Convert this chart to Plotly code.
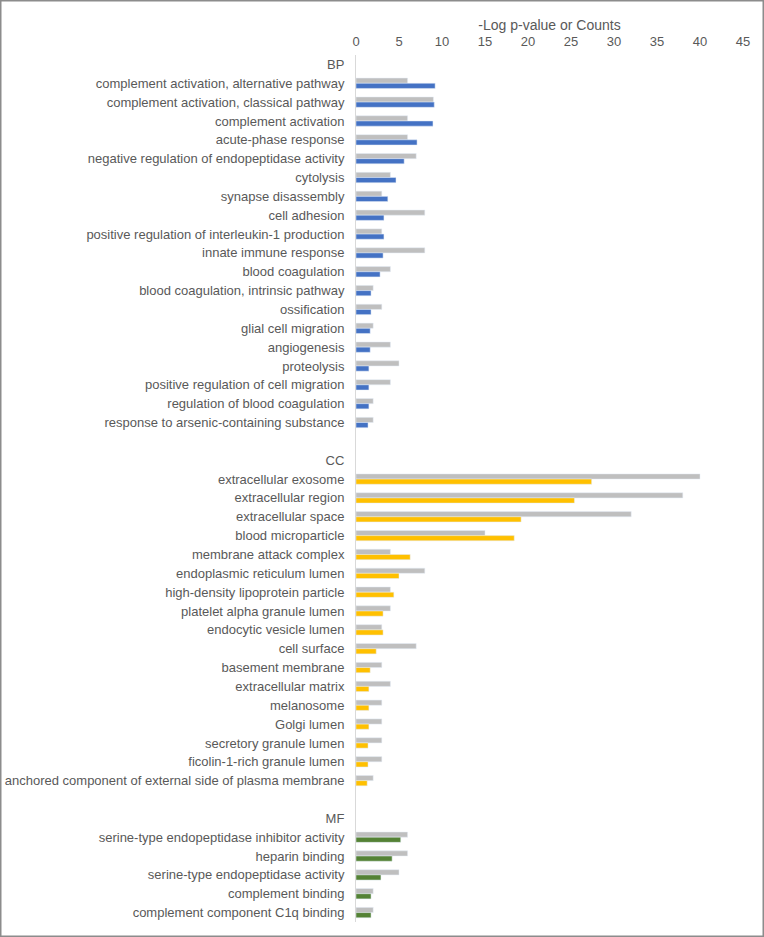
import plotly.graph_objects as go

bp_terms = [
    "complement activation, alternative pathway",
    "complement activation, classical pathway",
    "complement activation",
    "acute-phase response",
    "negative regulation of endopeptidase activity",
    "cytolysis",
    "synapse disassembly",
    "cell adhesion",
    "positive regulation of interleukin-1 production",
    "innate immune response",
    "blood coagulation",
    "blood coagulation, intrinsic pathway",
    "ossification",
    "glial cell migration",
    "angiogenesis",
    "proteolysis",
    "positive regulation of cell migration",
    "regulation of blood coagulation",
    "response to arsenic-containing substance",
]
bp_counts = [6, 9, 6, 6, 7, 4, 3, 8, 3, 8, 4, 2, 3, 2, 4, 5, 4, 2, 2]
bp_logp = [9.2, 9.1, 8.95, 7.1, 5.6, 4.65, 3.7, 3.25, 3.25, 3.15, 2.8, 1.75, 1.75, 1.65, 1.65, 1.5, 1.5, 1.5, 1.4]

cc_terms = [
    "extracellular exosome",
    "extracellular region",
    "extracellular space",
    "blood microparticle",
    "membrane attack complex",
    "endoplasmic reticulum lumen",
    "high-density lipoprotein particle",
    "platelet alpha granule lumen",
    "endocytic vesicle lumen",
    "cell surface",
    "basement membrane",
    "extracellular matrix",
    "melanosome",
    "Golgi lumen",
    "secretory granule lumen",
    "ficolin-1-rich granule lumen",
    "anchored component of external side of plasma membrane",
]
cc_counts = [40, 38, 32, 15, 4, 8, 4, 4, 3, 7, 3, 4, 3, 3, 3, 3, 2]
cc_logp = [27.4, 25.4, 19.2, 18.4, 6.3, 5.0, 4.4, 3.15, 3.15, 2.35, 1.65, 1.5, 1.5, 1.5, 1.4, 1.4, 1.3]

mf_terms = [
    "serine-type endopeptidase inhibitor activity",
    "heparin binding",
    "serine-type endopeptidase activity",
    "complement binding",
    "complement component C1q binding",
]
mf_counts = [6, 6, 5, 2, 2]
mf_logp = [5.2, 4.2, 2.9, 1.75, 1.75]

x_ticks = [0, 5, 10, 15, 20, 25, 30, 35, 40, 45]

BLUE = "#4472C4"
YELLOW = "#FFC000"
GREEN = "#548235"
GRAY = "#BFBFBF"
TXT = "#595959"

# Build category list (headers + blank separators)
cats, counts, logp, colors = [], [], [], []

def add_block(header, terms, cnt, lp, col, blank):
    cats.append(header); counts.append(None); logp.append(None); colors.append(col)
    for t, c, v in zip(terms, cnt, lp):
        cats.append(t); counts.append(c); logp.append(v); colors.append(col)
    if blank is not None:
        cats.append(blank); counts.append(None); logp.append(None); colors.append(col)

add_block("BP", bp_terms, bp_counts, bp_logp, BLUE, " ")
add_block("CC", cc_terms, cc_counts, cc_logp, YELLOW, "  ")
add_block("MF", mf_terms, mf_counts, mf_logp, GREEN, None)

fig = go.Figure()
fig.add_trace(go.Bar(y=cats, x=counts, orientation="h", marker_color=GRAY,
                     name="Counts", showlegend=False))
fig.add_trace(go.Bar(y=cats, x=logp, orientation="h", marker_color=colors,
                     name="-Log p-value", showlegend=False))

W, H = 764, 937
L, R, T, B = 356, 21, 55, 15
pw, ph = W - L - R, H - T - B

fig.update_layout(
    width=W, height=H,
    margin=dict(l=L, r=R, t=T, b=B, autoexpand=False),
    barmode="group", bargap=0.45, bargroupgap=0,
    plot_bgcolor="white", paper_bgcolor="white",
    font=dict(family="Liberation Sans, Arial, sans-serif", size=13, color=TXT),
    xaxis=dict(side="top", range=[0, 45], tickvals=x_ticks, ticktext=[str(v) for v in x_ticks],
               showgrid=False, zeroline=False, showline=False, ticks="", automargin=False,
               ticklabelstandoff=5,
               tickfont=dict(size=13, color=TXT),
               title=dict(text="-Log p-value or Counts", font=dict(size=14, color=TXT), standoff=0)),
    yaxis=dict(categoryorder="array", categoryarray=cats, autorange="reversed",
               showgrid=False, zeroline=False, showline=True, linecolor="#D9D9D9", linewidth=1,
               ticks="", ticklabelstandoff=8, automargin=False,
               tickfont=dict(size=13, color=TXT)),
    shapes=[dict(type="rect", xref="paper", yref="paper",
                 x0=(0.75 - L) / pw, x1=(W - 0.75 - L) / pw,
                 y0=-(B - 0.75) / ph, y1=1 + (T - 0.75) / ph,
                 line=dict(color="#8C8C8C", width=1.5), fillcolor="rgba(0,0,0,0)", layer="above")],
)

fig.write_html("out.html", config={"displayModeBar": False},
               post_script="document.body.style.margin='0';")
